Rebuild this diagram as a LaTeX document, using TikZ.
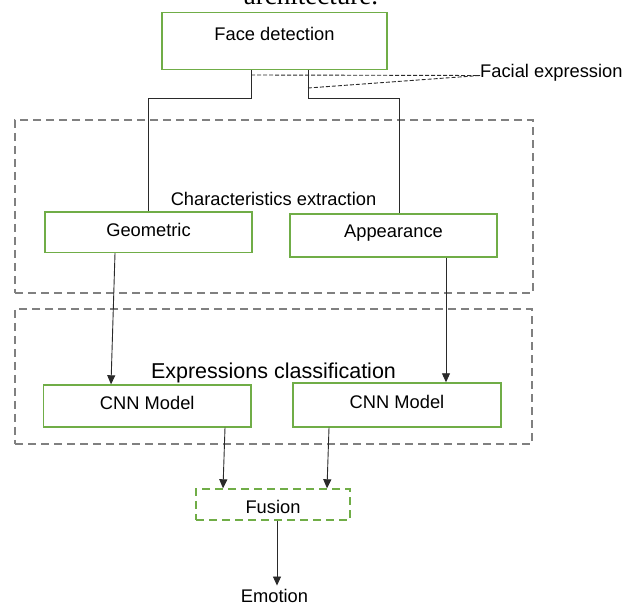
\documentclass[tikz,border=0pt]{standalone}
\usepackage{fontspec}
\setmainfont{Liberation Sans}
\newfontfamily\capfont{Liberation Serif}
\usetikzlibrary{arrows.meta}
\definecolor{boxgreen}{HTML}{70AD47}
\definecolor{dashgray}{HTML}{808080}
\definecolor{txt}{HTML}{000000}
\definecolor{wirecol}{HTML}{2A2A2A}
\begin{document}
\begin{tikzpicture}[x=1pt,y=-1pt,
  lbl/.style={font=\fontsize{18.3}{22}\selectfont, text=txt, inner sep=0pt},
  gbox/.style={draw=boxgreen, line width=1.4pt, inner sep=0pt, font=\fontsize{18.3}{22}\selectfont, text=txt},
  fusebox/.style={gbox, dash pattern=on 8pt off 5pt},
  group/.style={draw=dashgray, line width=1.4pt, dash pattern=on 8pt off 5pt, inner sep=0pt},
  wire/.style={draw=wirecol, line width=0.9pt},
  arr/.style={wire, -{Triangle[length=9pt,width=8pt]}},
  fdash/.style={wire, dash pattern=on 4pt off 2pt}
]
\useasboundingbox (0,0) rectangle (625,604);

% caption fragment
\node[font=\capfont\fontsize{27}{30}\selectfont, text=txt, anchor=base, inner sep=0pt] (cap) at (311,4.5) {architecture.};

% groups
\node[group, minimum width=518pt, minimum height=173pt] (g1) at (274,206.5) {};
\node[group, minimum width=517pt, minimum height=135pt] (g2) at (273.5,376.5) {};
\node[lbl, anchor=base] (ce) at (273.5,206) {Characteristics extraction};
\node[lbl, font=\fontsize{21.5}{25}\selectfont, anchor=base] (ec) at (273.5,379) {Expressions classification};

% boxes
\node[gbox, minimum width=225pt, minimum height=57pt, text height=0pt, text depth=0.8pt] (fd) at (274.5,41) {Face detection};
\node[gbox, minimum width=207pt, minimum height=40.5pt, text height=9.2pt, text depth=0pt] (geo) at (148.5,232.25) {Geometric};
\node[gbox, minimum width=207pt, minimum height=43pt, text height=4.2pt, text depth=0pt] (app) at (393.5,235.5) {Appearance};
\node[gbox, minimum width=207.5pt, minimum height=42pt, text height=6.6pt, text depth=0pt] (cnn1) at (147.25,406) {CNN Model};
\node[gbox, minimum width=208pt, minimum height=44pt, text height=6.6pt, text depth=0pt] (cnn2) at (397,405) {CNN Model};
\node[fusebox, minimum width=154pt, minimum height=31pt, text height=17.6pt, text depth=0pt] (fuse) at (273,504.5) {Fusion};
\node[lbl, anchor=base, inner ysep=4pt] (emo) at (274.5,603) {Emotion};
\node[lbl, anchor=base west] (fe) at (480,77.7) {Facial expression};

% junctions
\coordinate (j1) at (251,98);
\coordinate (j2) at (308,98);
\coordinate (d1) at (251,75);
\coordinate (d2) at (308,88);
\coordinate (fx) at (480,75.5);

% tree from face detection
\draw[wire] (fd.south -| j1) -- (j1) -| (geo.north -| 148,0);
\draw[wire] (fd.south -| j2) -- (j2) -| ([xshift=5.5pt]app.north);

% facial expression pointers
\draw[fdash] (d1) -- (fx);
\draw[fdash] (d2) -- (fx);

% arrows
\draw[arr] ([xshift=-33.5pt]geo.south) -- ([xshift=-36.25pt]cnn1.north);
\draw[arr] ([xshift=52.5pt]app.south) -- ([xshift=49pt]cnn2.north);
\draw[arr] ([xshift=77.75pt]cnn1.south) -- ([xshift=-50pt]fuse.north);
\draw[arr] ([xshift=-68pt]cnn2.south) -- ([xshift=54pt]fuse.north);
\coordinate (fo) at ([xshift=4pt]fuse.south);
\draw[arr] (fo) -- (fo |- emo.north);
\end{tikzpicture}
\end{document}
